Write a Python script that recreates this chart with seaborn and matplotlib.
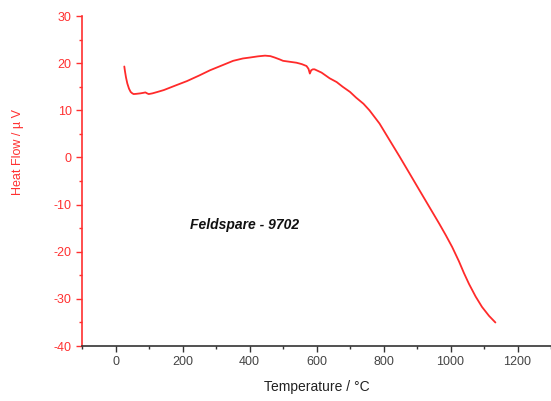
import matplotlib
matplotlib.use("Agg")
import matplotlib.pyplot as plt
import seaborn as sns
import pandas as pd
from matplotlib.ticker import MultipleLocator

temperature = [26, 28, 31, 35, 40, 45, 50, 54, 62, 74, 82, 89, 94, 99, 110, 125, 144, 180, 213, 250, 282,
               320, 351, 380, 401, 425, 446, 462, 475, 490, 500, 520, 540, 556, 570, 576, 580, 584,
               589, 594, 615, 639, 660, 678, 700, 718, 740, 758, 788, 817, 847, 877, 906,
               936, 966, 986, 1005, 1025, 1040, 1055, 1075, 1094, 1115, 1134]
heat_flow = [19.3, 18.3, 17.0, 15.7, 14.6, 13.9, 13.6, 13.45, 13.5, 13.6, 13.7, 13.8, 13.6, 13.45, 13.6,
             13.9, 14.3, 15.3, 16.2, 17.4, 18.5, 19.6, 20.5, 21.0, 21.2, 21.45, 21.6, 21.5, 21.2,
             20.8, 20.5, 20.3, 20.1, 19.8, 19.4, 18.8, 17.8, 18.5, 18.7, 18.7, 18.0, 16.8, 16.0,
             15.0, 13.9, 12.7, 11.4, 10.0, 7.2, 3.8, 0.3, -3.3, -6.8, -10.4, -14.0, -16.5, -19.0,
             -22.0, -24.5, -26.8, -29.5, -31.7, -33.6, -35.0]

df = pd.DataFrame({"Temperature": temperature, "HeatFlow": heat_flow})

sns.set_style("ticks")
plt.rcParams["font.family"] = ["Liberation Sans", "DejaVu Sans"]
plt.rcParams["axes.unicode_minus"] = False

fig = plt.figure(figsize=(5.51, 4.01), dpi=100)
ax = fig.add_axes([0.149, 0.137, 0.851, 0.823])
sns.lineplot(data=df, x="Temperature", y="HeatFlow", ax=ax, color="#ff2a2a", linewidth=1.3, sort=False)

ax.set_xlim(-100, 1300)
ax.set_ylim(-40, 30)
ax.xaxis.set_major_locator(MultipleLocator(200))
ax.xaxis.set_minor_locator(MultipleLocator(100))
ax.yaxis.set_major_locator(MultipleLocator(10))
ax.yaxis.set_minor_locator(MultipleLocator(5))
ax.set_xticks([0, 200, 400, 600, 800, 1000, 1200])

red = "#ff3030"
ax.spines["top"].set_visible(False)
ax.spines["right"].set_visible(False)
ax.spines["left"].set_color(red)
ax.spines["left"].set_linewidth(1.2)
ax.spines["bottom"].set_color("#333333")
ax.spines["bottom"].set_linewidth(1.2)

ax.tick_params(axis="y", which="major", colors=red, labelcolor=red, length=4, width=1, labelsize=9, direction="out")
ax.tick_params(axis="y", which="minor", colors=red, length=2.5, width=1, direction="out")
ax.tick_params(axis="x", which="major", colors="#333333", labelcolor="#444444", length=4, width=1, labelsize=9, direction="out")
ax.tick_params(axis="x", which="minor", colors="#333333", length=2.5, width=1, direction="out")

ax.set_xlabel("Temperature / °C", fontsize=10, color="#222222", labelpad=8)
ax.set_ylabel("Heat Flow / µ V", fontsize=9, color=red)
ax.yaxis.set_label_coords(-0.124, 0.588)

ax.text(386, -14.3, "Feldspare - 9702", fontsize=10, fontweight="bold", fontstyle="italic",
        color="#111111", ha="center", va="center")

fig.savefig("out.png", dpi=100)
